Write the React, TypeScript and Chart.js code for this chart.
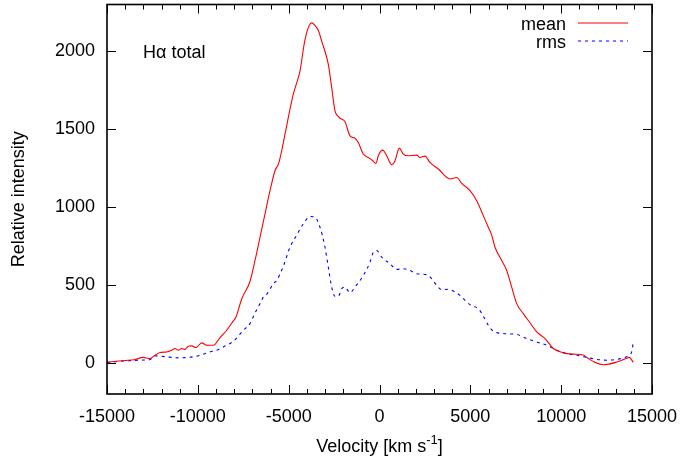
import React, { useEffect, useRef } from "react";
import { Chart, registerables } from "chart.js";

Chart.register(...registerables);

const meanVelocity = [
  -15000, -14500, -14000, -13500, -13000, -12630, -12355, -12080, -11715, -11440,
  -11257, -11075, -10890, -10707, -10525, -10340, -10100, -9790, -9513, -9146,
  -9055, -8780, -8412, -8048, -7900, -7586, -7129, -6853, -6578, -6303,
  -6028, -5752, -5550, -5384, -5202, -4745, -4470, -4376, -4101, -3732,
  -3550, -3369, -3182, -2818, -2631, -2450, -2300, -2175, -1900, -1624,
  -1349, -1167, -892, -617, -400, -193, -66, 176, 396, 672,
  853, 1090, 1310, 1585, 2048, 2229, 2505, 2780, 3237, 3881,
  4250, 4525, 4982, 5351, 5714, 5989, 6176, 6358, 6727, 7002,
  7277, 7553, 7916, 8285, 8654, 9111, 9568, 10118, 10669, 11219,
  11494, 11863, 12320, 13058, 13608, 13750, 13972,
];
const meanIntensity = [
  3, 10, 15, 20, 35, 28, 49, 66, 70, 81,
  92, 81, 92, 86, 107, 109, 98, 128, 113, 113,
  118, 162, 209, 269, 294, 410, 522, 657, 806, 956,
  1105, 1233, 1280, 1361, 1468, 1724, 1830, 1873, 2075, 2182,
  2165, 2135, 2065, 1916, 1766, 1617, 1585, 1570, 1548, 1457,
  1442, 1414, 1340, 1318, 1300, 1280, 1329, 1365, 1329, 1271,
  1297, 1378, 1340, 1329, 1333, 1318, 1327, 1286, 1244, 1180,
  1190, 1152, 1105, 1041, 945, 870, 820, 742, 657, 593,
  486, 380, 316, 257, 198, 156, 92, 64, 56, 50,
  28, 3, -12, 5, 30, 35, 3,
];

const rmsVelocity = [
  -15000, -14500, -13917, -13000, -12630, -12355, -12000, -11715, -10982, -10064,
  -9880, -9330, -8962, -8599, -8048, -7497, -7129, -6853, -6578, -6395,
  -6210, -5846, -5659, -5296, -4927, -4558, -4195, -3826, -3551, -3275,
  -3000, -2818, -2631, -2450, -2268, -2081, -1900, -1718, -1624, -1349,
  -892, -523, -341, -154, 121, 578, 947, 1310, 1679, 2048,
  2598, 2874, 3149, 3424, 3788, 4156, 4431, 4707, 5075, 5439,
  5714, 5989, 6264, 6815, 7553, 8103, 8654, 9204, 9661, 10305,
  10856, 11406, 11956, 12507, 13058, 13514, 13697, 13880, 13972,
];
const rmsIntensity = [
  3, 8, 13, 18, 22, 45, 42, 38, 32, 43,
  49, 70, 81, 102, 138, 209, 252, 320, 380, 422,
  440, 508, 529, 620, 742, 820, 892, 939, 934, 870,
  742, 614, 486, 427, 427, 476, 486, 460, 450, 486,
  561, 646, 710, 721, 678, 636, 600, 604, 593, 572,
  566, 540, 497, 470, 472, 454, 433, 401, 366, 348,
  300, 241, 204, 188, 182, 156, 134, 113, 86, 60,
  49, 35, 22, 17, 22, 35, 45, 70, 134,
];

const xMajorTicks = [-15000, -10000, -5000, 0, 5000, 10000, 15000];
const xMinorTicks = [
  -14000, -13000, -12000, -11000, -9000, -8000, -7000, -6000, -4000, -3000, -2000, -1000,
  1000, 2000, 3000, 4000, 6000, 7000, 8000, 9000, 11000, 12000, 13000, 14000,
];
const yMajorTicks = [0, 500, 1000, 1500, 2000];
const seriesLabels = ["mean", "rms"];
const seriesColors = ["#ff0000", "#0000ff"];
const panelLabel = "H\u03b1 total";
const yTitle = "Relative intensity";
const xTitleMain = "Velocity [km s";
const xTitleSup = "-1";
const xTitleEnd = "]";

const FONT = '"Liberation Sans", Arial, Helvetica, sans-serif';

const framePlugin = {
  id: "gnuplotFrame",
  afterDraw(chart: any) {
    const { ctx, chartArea: a, scales } = chart;
    const x = scales.x;
    const y = scales.y;
    ctx.save();
    ctx.strokeStyle = "#000";
    ctx.lineWidth = 1;
    ctx.beginPath();
    for (const v of xMajorTicks) {
      const px = Math.round(x.getPixelForValue(v)) + 0.5;
      ctx.moveTo(px, a.bottom);
      ctx.lineTo(px, a.bottom - 9);
      ctx.moveTo(px, a.top);
      ctx.lineTo(px, a.top + 9);
    }
    for (const v of xMinorTicks) {
      const px = Math.round(x.getPixelForValue(v)) + 0.5;
      ctx.moveTo(px, a.bottom);
      ctx.lineTo(px, a.bottom - 5);
      ctx.moveTo(px, a.top);
      ctx.lineTo(px, a.top + 5);
    }
    for (const v of yMajorTicks) {
      const py = Math.round(y.getPixelForValue(v)) + 0.5;
      ctx.moveTo(a.left, py);
      ctx.lineTo(a.left + 9, py);
      ctx.moveTo(a.right, py);
      ctx.lineTo(a.right - 9, py);
    }
    ctx.stroke();
    ctx.lineWidth = 1.6;
    ctx.strokeRect(a.left, a.top, a.right - a.left, a.bottom - a.top);

    ctx.fillStyle = "#000";
    ctx.font = `18px ${FONT}`;
    // panel label
    ctx.textAlign = "left";
    ctx.textBaseline = "alphabetic";
    ctx.fillText(panelLabel, a.left + 36, a.top + 53);

    // legend
    ctx.textAlign = "right";
    const rows = [a.top + 25, a.top + 43];
    seriesLabels.forEach((lab, i) => {
      ctx.fillStyle = "#000";
      ctx.fillText(lab, a.right - 86, rows[i]);
      ctx.beginPath();
      ctx.strokeStyle = seriesColors[i];
      ctx.lineWidth = 1;
      ctx.setLineDash(i === 1 ? [3, 4] : []);
      const ly = rows[i] - 6.5;
      ctx.moveTo(a.right - 74, ly);
      ctx.lineTo(a.right - 24, ly);
      ctx.stroke();
      ctx.setLineDash([]);
    });

    // y title
    ctx.fillStyle = "#000";
    ctx.save();
    ctx.translate(24, (a.top + a.bottom) / 2);
    ctx.rotate(-Math.PI / 2);
    ctx.textAlign = "center";
    ctx.textBaseline = "alphabetic";
    ctx.font = `18px ${FONT}`;
    ctx.fillText(yTitle, 0, 0);
    ctx.restore();

    // x title with superscript
    ctx.textAlign = "left";
    ctx.textBaseline = "alphabetic";
    ctx.font = `18px ${FONT}`;
    const w1 = ctx.measureText(xTitleMain).width;
    const w3 = ctx.measureText(xTitleEnd).width;
    ctx.font = `13px ${FONT}`;
    const w2 = ctx.measureText(xTitleSup).width;
    const total = w1 + w2 + w3;
    const cx = (a.left + a.right) / 2;
    const base = a.bottom + 58;
    let sx = cx - total / 2;
    ctx.font = `18px ${FONT}`;
    ctx.fillText(xTitleMain, sx, base);
    sx += w1;
    ctx.font = `13px ${FONT}`;
    ctx.fillText(xTitleSup, sx, base - 8);
    sx += w2;
    ctx.font = `18px ${FONT}`;
    ctx.fillText(xTitleEnd, sx, base);
    ctx.restore();
  },
};

const zeroPad = (s: any) => {
  s.paddingTop = 0;
  s.paddingBottom = 0;
  s.paddingLeft = 0;
  s.paddingRight = 0;
};

export default function App() {
  const ref = useRef<HTMLCanvasElement | null>(null);
  useEffect(() => {
    if (!ref.current) return;
    const chart = new Chart(ref.current, {
      type: "line",
      data: {
        datasets: [
          {
            label: seriesLabels[0],
            data: meanVelocity.map((v, i) => ({ x: v, y: meanIntensity[i] })),
            borderColor: seriesColors[0],
            borderWidth: 1.1,
            pointRadius: 0,
            cubicInterpolationMode: "monotone",
            fill: false,
          },
          {
            label: seriesLabels[1],
            data: rmsVelocity.map((v, i) => ({ x: v, y: rmsIntensity[i] })),
            borderColor: seriesColors[1],
            borderWidth: 1.1,
            borderDash: [3, 4],
            pointRadius: 0,
            cubicInterpolationMode: "monotone",
            fill: false,
          },
        ],
      },
      options: {
        responsive: false,
        animation: false,
        devicePixelRatio: 1,
        layout: { padding: { left: 0, top: 4.5, right: 29, bottom: 0 } },
        plugins: { legend: { display: false }, tooltip: { enabled: false } },
        scales: {
          x: {
            type: "linear",
            min: -15000,
            max: 15000,
            grid: { display: false, drawTicks: false },
            border: { display: false },
            afterFit: (s: any) => {
              s.height = 67;
              zeroPad(s);
            },
            afterBuildTicks: (s: any) => {
              s.ticks = xMajorTicks.map((v) => ({ value: v }));
            },
            ticks: {
              color: "#000",
              padding: 12,
              maxRotation: 0,
              autoSkip: false,
              font: { family: FONT, size: 18 },
              callback: (v: any) => String(v),
            },
          },
          y: {
            type: "linear",
            min: -200,
            max: 2300,
            grid: { display: false, drawTicks: false },
            border: { display: false },
            afterFit: (s: any) => {
              s.width = 107;
              zeroPad(s);
            },
            afterBuildTicks: (s: any) => {
              s.ticks = yMajorTicks.map((v) => ({ value: v }));
            },
            ticks: {
              color: "#000",
              padding: 12,
              autoSkip: false,
              font: { family: FONT, size: 18 },
              callback: (v: any) => String(v),
            },
          },
        },
      },
      plugins: [framePlugin],
    });
    return () => chart.destroy();
  }, []);
  return (
    <div style={{ position: "absolute", left: 0, top: 0, width: 681, height: 461, background: "#fff" }}>
      <canvas ref={ref} width={681} height={461} />
    </div>
  );
}
